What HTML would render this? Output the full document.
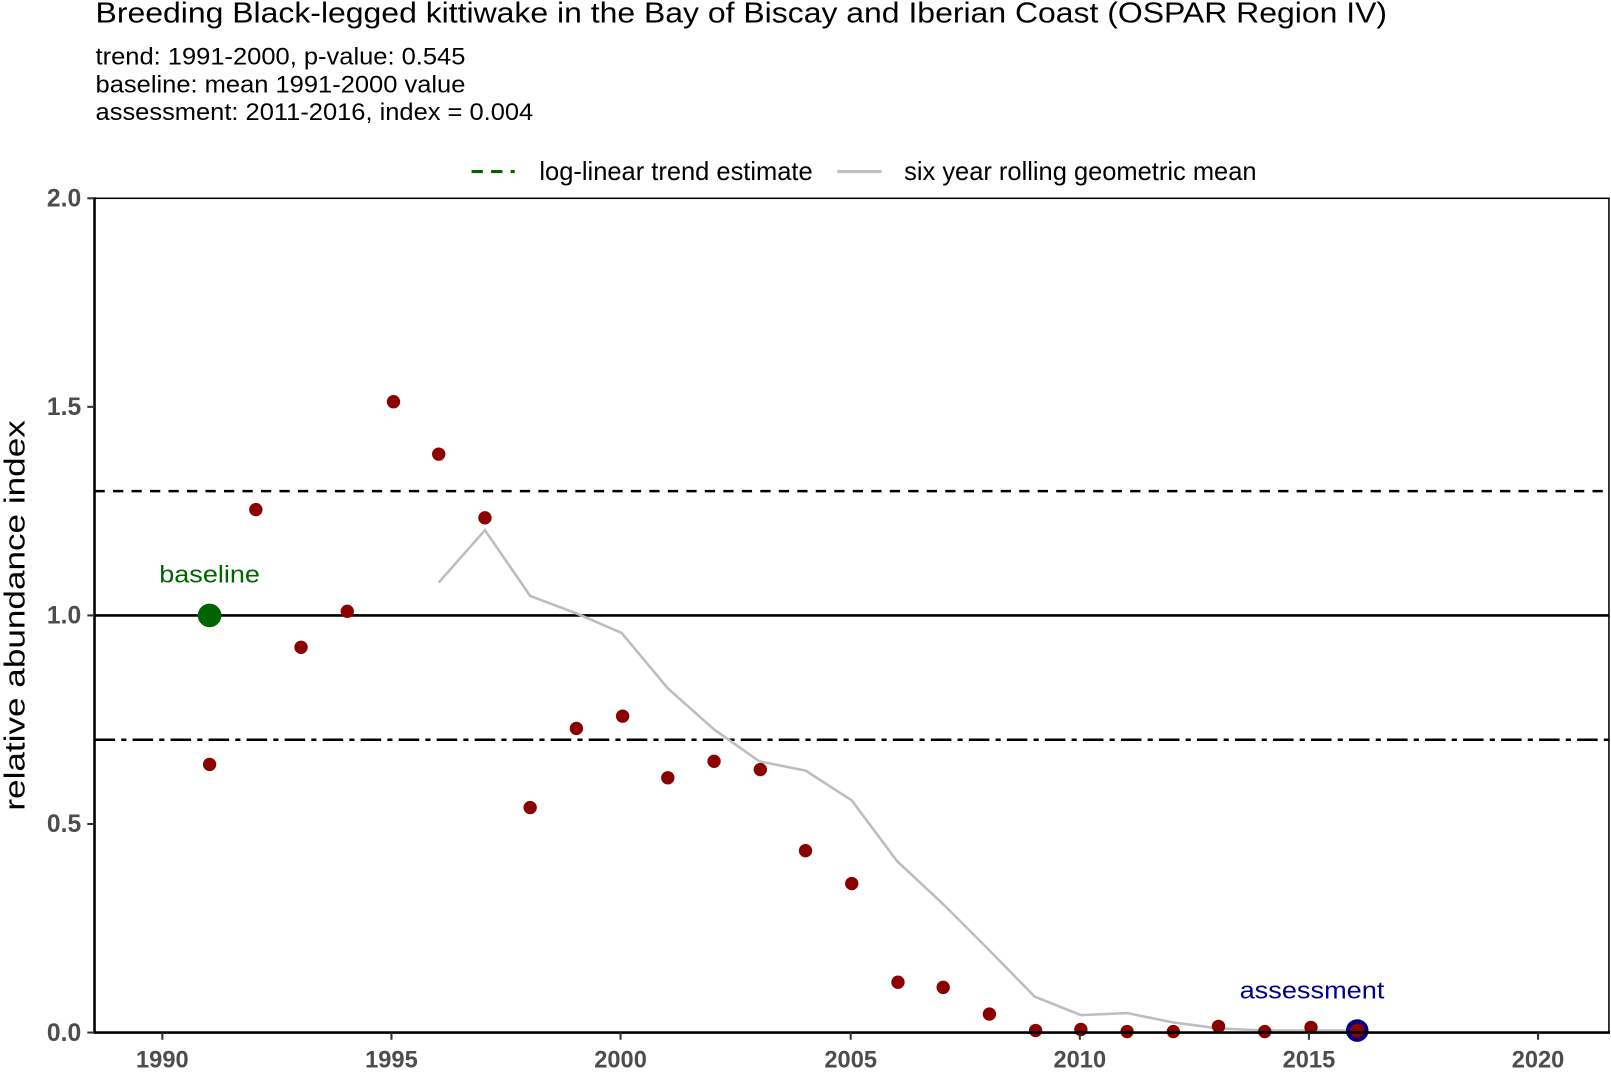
<!DOCTYPE html>
<html><head><meta charset="utf-8"><style>
body{margin:0;background:#fff;}
svg{display:block;font-family:"Liberation Sans",Arial,sans-serif;}
</style></head><body>
<svg width="1611" height="1075" viewBox="0 0 1568 1046.3" preserveAspectRatio="none" xmlns="http://www.w3.org/2000/svg">
<rect width="1568" height="1047" fill="#fff"/>
<text x="93" y="22" font-size="28" fill="#000" textLength="1257" lengthAdjust="spacingAndGlyphs">Breeding Black-legged kittiwake in the Bay of Biscay and Iberian Coast (OSPAR Region IV)</text>
<text x="93" y="63" font-size="23" fill="#000" textLength="360" lengthAdjust="spacingAndGlyphs">trend: 1991-2000, p-value: 0.545</text>
<text x="93" y="90" font-size="23" fill="#000" textLength="360" lengthAdjust="spacingAndGlyphs">baseline: mean 1991-2000 value</text>
<text x="93" y="117" font-size="23" fill="#000" textLength="426" lengthAdjust="spacingAndGlyphs">assessment: 2011-2016, index = 0.004</text>
<!-- legend -->
<line x1="459" y1="167" x2="501" y2="167" stroke="#006400" stroke-width="3" stroke-dasharray="11,8"/>
<text x="525" y="175" font-size="25" textLength="266" lengthAdjust="spacingAndGlyphs">log-linear trend estimate</text>
<line x1="815" y1="167" x2="858" y2="167" stroke="#bebebe" stroke-width="3"/>
<text x="880" y="175" font-size="25" textLength="343" lengthAdjust="spacingAndGlyphs">six year rolling geometric mean</text>
<!-- reference lines -->
<line x1="92" y1="478" x2="1566" y2="478" stroke="#000" stroke-width="2.5" stroke-dasharray="10,8"/>
<line x1="92" y1="599" x2="1566" y2="599" stroke="#000" stroke-width="2.5"/>
<line x1="92" y1="720" x2="1566" y2="720" stroke="#000" stroke-width="2.5" stroke-dasharray="20,6,5,6"/>
<!-- rolling mean -->
<polyline fill="none" stroke="#bebebe" stroke-width="2.5" points="427,567 472,516 516,580 561,597 605,616 650,670 695,710 739,741 784,750 829,779 873,838 918,880 963,925 1007,970 1052,988 1097,986 1141,995 1186,1001 1231,1003 1275,1003 1320,1003"/>
<!-- points -->
<g fill="#8b0000">
<circle cx="204" cy="744" r="6.5"/><circle cx="249" cy="496" r="6.5"/><circle cx="293" cy="630" r="6.5"/><circle cx="338" cy="595" r="6.5"/>
<circle cx="383" cy="391" r="6.5"/><circle cx="427" cy="442" r="6.5"/><circle cx="472" cy="504" r="6.5"/><circle cx="516" cy="786" r="6.5"/>
<circle cx="561" cy="709" r="6.5"/><circle cx="606" cy="697" r="6.5"/><circle cx="650" cy="757" r="6.5"/><circle cx="695" cy="741" r="6.5"/>
<circle cx="740" cy="749" r="6.5"/><circle cx="784" cy="828" r="6.5"/><circle cx="829" cy="860" r="6.5"/><circle cx="874" cy="956" r="6.5"/>
<circle cx="918" cy="961" r="6.5"/><circle cx="963" cy="987" r="6.5"/><circle cx="1008" cy="1003" r="6.5"/><circle cx="1052" cy="1002" r="6.5"/>
<circle cx="1097" cy="1004" r="6.5"/><circle cx="1142" cy="1004" r="6.5"/><circle cx="1186" cy="999" r="6.5"/><circle cx="1231" cy="1004" r="6.5"/>
<circle cx="1276" cy="1000" r="6.5"/>
</g>
<circle cx="204" cy="599" r="11.5" fill="#006400"/>
<text x="204" y="567" font-size="23" fill="#006400" text-anchor="middle" textLength="98" lengthAdjust="spacingAndGlyphs">baseline</text>
<circle cx="1321" cy="1003" r="9" fill="#8b0000" stroke="#00008b" stroke-width="4"/>
<text x="1277" y="972" font-size="23" fill="#00008b" text-anchor="middle" textLength="141" lengthAdjust="spacingAndGlyphs">assessment</text>
<!-- panel border & axes -->
<rect x="92" y="193" width="1474" height="812" fill="none" stroke="#000" stroke-width="1.5"/>
<line x1="92" y1="192" x2="92" y2="1006" stroke="#000" stroke-width="2.5"/>
<line x1="91" y1="1005" x2="1567" y2="1005" stroke="#000" stroke-width="2.5"/>
<g stroke="#333" stroke-width="2">
<line x1="85" y1="193" x2="92" y2="193"/><line x1="85" y1="396" x2="92" y2="396"/><line x1="85" y1="599" x2="92" y2="599"/><line x1="85" y1="802" x2="92" y2="802"/><line x1="85" y1="1005" x2="92" y2="1005"/>
<line x1="158" y1="1005" x2="158" y2="1012"/><line x1="381" y1="1005" x2="381" y2="1012"/><line x1="604" y1="1005" x2="604" y2="1012"/><line x1="828" y1="1005" x2="828" y2="1012"/><line x1="1051" y1="1005" x2="1051" y2="1012"/><line x1="1274" y1="1005" x2="1274" y2="1012"/><line x1="1497" y1="1005" x2="1497" y2="1012"/>
</g>
<g font-size="24" font-weight="bold" fill="#4d4d4d" text-anchor="end">
<text x="79" y="201">2.0</text><text x="79" y="404">1.5</text><text x="79" y="607">1.0</text><text x="79" y="810">0.5</text><text x="79" y="1013">0.0</text>
</g>
<g font-size="23" font-weight="bold" fill="#4d4d4d" text-anchor="middle">
<text x="158" y="1039">1990</text><text x="381" y="1039">1995</text><text x="604" y="1039">2000</text><text x="828" y="1039">2005</text><text x="1051" y="1039">2010</text><text x="1274" y="1039">2015</text><text x="1497" y="1039">2020</text>
</g>
<text transform="translate(24,599) rotate(-90)" font-size="28" text-anchor="middle" textLength="380" lengthAdjust="spacingAndGlyphs">relative abundance index</text>
</svg>
</body></html>
